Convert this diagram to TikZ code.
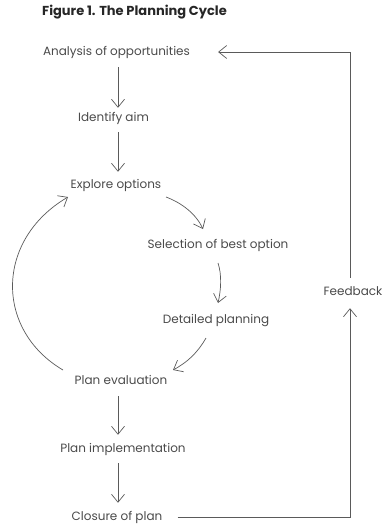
\documentclass[tikz,border=0pt]{standalone}
\usepackage{fontspec}
\setmainfont{Poppins}
\usetikzlibrary{arrows.meta}
\definecolor{txt}{HTML}{4A4A4A}
\definecolor{ln}{HTML}{5A5A5A}
\tikzset{
  lbl/.style={inner sep=0pt, text height=9pt, text depth=3pt, text=txt, font=\fontsize{12}{14}\selectfont},
  tip/.style={-{Straight Barb[length=8pt,width=13pt,line width=0.7pt]}},
  arr/.style={draw=ln, line width=0.7pt, tip},
  ln/.style={draw=ln, line width=0.9pt}
}
\begin{document}
\begin{tikzpicture}[x=1pt,y=-1pt]
\useasboundingbox (0,0) rectangle (388,525);
\node[anchor=west, inner sep=0pt, text=black!85, font=\fontsize{13}{15}\selectfont\bfseries] (title) at (42,12) {Figure 1. The Planning Cycle};
\node[lbl] (ana) at (116.5,52) {Analysis of opportunities};
\node[lbl] (aim) at (113.5,118) {Identify aim};
\node[lbl] (exp) at (116,185) {Explore options};
\node[lbl] (sel) at (218,245) {Selection of best option};
\node[lbl] (det) at (216,320) {Detailed planning};
\node[lbl] (eva) at (121,381) {Plan evaluation};
\node[lbl] (imp) at (123,449) {Plan implementation};
\node[lbl] (clo) at (117,517) {Closure of plan};
\node[lbl] (fb) at (353,292) {Feedback};
\coordinate (ax) at (118,0);
\coordinate (rx) at (350,0);
\coordinate (e1) at (166,197); \coordinate (s1) at (203,229);
\coordinate (s2) at (218,263); \coordinate (d2) at (218,303);
\coordinate (d3) at (206,338); \coordinate (v3) at (173,370);
\coordinate (v4) at (63,370);  \coordinate (e4) at (68,197);
\draw[arr, shorten <=9pt, shorten >=4pt] (ana.south -| ax) -- (aim.north -| ax);
\draw[arr, shorten <=8pt, shorten >=7pt] (aim.south -| ax) -- (exp.north -| ax);
\draw[arr] (e1) .. controls (182,203) and (196,214) .. (s1);
\draw[arr] (s2) .. controls (222,275) and (221,290) .. (d2);
\draw[arr] (d3) .. controls (198,352) and (188,362) .. (v3);
\draw[arr] (v4) .. controls (-5,330) and (-5,240) .. (e4);
\draw[arr, shorten <=9pt, shorten >=8pt] (eva.south -| ax) -- (imp.north -| ax);
\draw[arr, shorten <=8pt, shorten >=8pt] (imp.south -| ax) -- (clo.north -| ax);
\draw[ln, tip, shorten <=15pt] (clo.east) -- (clo.east -| rx) -- ([yshift=-10pt]fb.south -| rx);
\draw[ln, tip, shorten >=28pt] ([yshift=8pt]fb.north -| rx) -- (ana.east -| rx) -- (ana.east);
\end{tikzpicture}
\end{document}
